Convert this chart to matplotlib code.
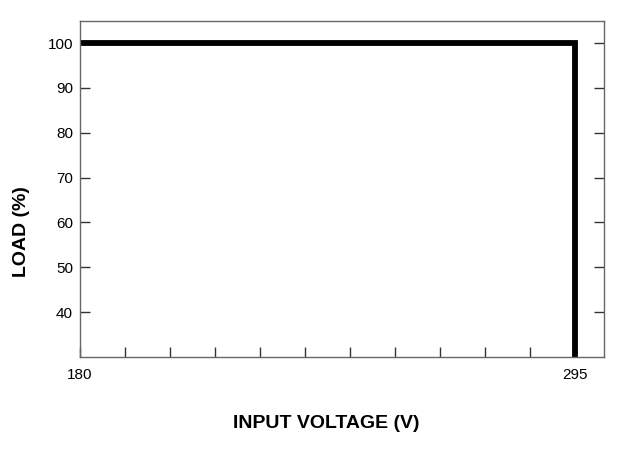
import matplotlib
matplotlib.use("Agg")
import matplotlib.pyplot as plt

# Data
voltage = [180, 295, 295]
load = [100, 100, 30]
x_labels = {180: "180", 295: "295"}
y_ticks = [40, 50, 60, 70, 80, 90, 100]

plt.rcParams['font.family'] = ['Liberation Sans', 'DejaVu Sans']

W, H = 619, 455
fig = plt.figure(figsize=(W / 100, H / 100), dpi=100)
ax = fig.add_axes([80 / W, 1 - 357 / H, (604 - 80) / W, (357 - 20.7) / H])

ax.plot(voltage, load, color='black', lw=4.2, solid_joinstyle='miter', solid_capstyle='butt')

step = (295 - 180) / 11
ax.set_xlim(180, 180 + step * (604 - 80) / 45)
ax.set_ylim(30, 105)

xt = [180 + k * step for k in range(12)]
ax.set_xticks(xt)
ax.set_xticklabels([x_labels.get(round(v), "") for v in xt])
ax.set_yticks(y_ticks)
ax.set_yticklabels([str(v) for v in y_ticks])

ax.tick_params(axis='x', direction='in', length=7, width=1, color='#333', labelsize=11, pad=8)
ax.tick_params(axis='y', direction='in', length=7, width=1, color='#333', labelsize=11, pad=5,
               right=True)
for s in ax.spines.values():
    s.set_color('#666')
    s.set_linewidth(1)

fig.text(326 / W, 1 - 424 / H, "INPUT VOLTAGE (V)", ha='center', va='center',
         fontsize=14, fontweight='bold')
fig.text(22 / W, 1 - 232 / H, "LOAD (%)", ha='center', va='center', rotation=90,
         fontsize=14, fontweight='bold')

fig.savefig("out.png", dpi=100)
